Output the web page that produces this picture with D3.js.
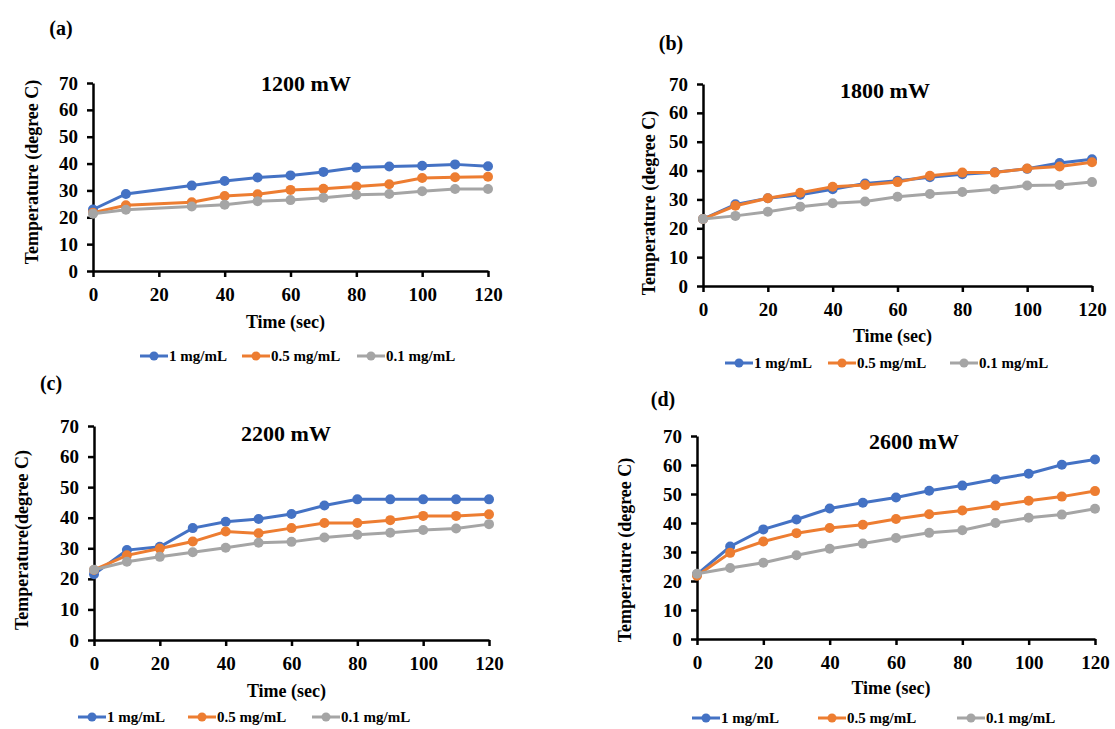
<!DOCTYPE html>
<html lang="en">

<head>
    <meta charset="UTF-8">
    <title>Temperature vs Time</title>
    <style>
        body {
            margin: 0;
            background: #fff;
        }

        svg text {
            font-family: "Liberation Serif", "Times New Roman", "DejaVu Serif", serif !important;
            font-weight: bold;
            fill: #000;
        }

        .axis path,
        .axis line {
            stroke: #000;
            stroke-width: 2.5px;
        }
    </style>
</head>

<body>
    <div id="chart"></div>

    <script src="https://d3js.org/d3.v7.min.js"></script>
    <script>
        // data
        const seriesNames = ["1 mg/mL", "0.5 mg/mL", "0.1 mg/mL"];
        const colors = ["#4472C4", "#ED7D31", "#A5A5A5"];

        const timeA = [0, 10, 30, 40, 50, 60, 70, 80, 90, 100, 110, 120];
        const timeFull = [0, 10, 20, 30, 40, 50, 60, 70, 80, 90, 100, 110, 120];
        const xTicks = [0, 20, 40, 60, 80, 100, 120];
        const yTicks = [0, 10, 20, 30, 40, 50, 60, 70];

        // (a) 1200 mW
        const a1 = [22.9, 28.7, 31.8, 33.5, 34.8, 35.6, 36.9, 38.5, 38.9, 39.2, 39.7, 39.0];
        const a05 = [21.7, 24.5, 25.6, 27.9, 28.6, 30.2, 30.6, 31.5, 32.3, 34.6, 34.9, 35.1];
        const a01 = [21.3, 22.8, 24.0, 24.7, 26.0, 26.4, 27.3, 28.4, 28.7, 29.7, 30.5, 30.5];
        // (b) 1800 mW
        const b1 = [23.2, 28.3, 30.4, 31.6, 33.5, 35.5, 36.5, 37.7, 38.7, 39.4, 40.6, 42.6, 43.9];
        const b05 = [23.2, 27.8, 30.4, 32.3, 34.4, 35.0, 36.0, 38.2, 39.3, 39.3, 40.7, 41.4, 42.9];
        const b01 = [23.2, 24.3, 25.7, 27.5, 28.7, 29.3, 30.9, 31.9, 32.6, 33.5, 34.8, 35.0, 36.0];
        // (c) 2200 mW
        const c1 = [21.5, 29.4, 30.5, 36.6, 38.7, 39.6, 41.2, 44.0, 46.0, 46.0, 46.0, 46.0, 46.0];
        const c05 = [22.9, 27.7, 29.9, 32.2, 35.5, 34.9, 36.6, 38.3, 38.3, 39.2, 40.6, 40.6, 41.1];
        const c01 = [23.0, 25.6, 27.2, 28.7, 30.2, 31.8, 32.1, 33.5, 34.4, 35.1, 36.0, 36.5, 37.9];
        // (d) 2600 mW
        const d1 = [22.3, 31.9, 37.8, 41.2, 45.0, 47.0, 48.8, 51.1, 52.9, 55.1, 57.0, 60.1, 61.9];
        const d05 = [21.8, 29.7, 33.6, 36.5, 38.3, 39.4, 41.4, 43.0, 44.3, 46.0, 47.7, 49.1, 51.0];
        const d01 = [22.5, 24.5, 26.3, 28.9, 31.1, 32.9, 34.8, 36.6, 37.5, 40.0, 41.8, 42.9, 44.9];

        const width = 1115;
        const height = 729;
        const font = '"Liberation Serif", "Times New Roman", serif';

        const svg = d3.select("#chart")
            .append("svg")
            .attr("width", width)
            .attr("height", height)
            .attr("font-family", font);

        // layout of each panel
        const panels = [
            {
                label: "(a)", labelX: 61, labelY: 35,
                title: "1200 mW", titleX: 306, titleY: 91,
                yTitle: "Temperature (degree C)", yTitleX: 38, yTitleY: 172,
                x0: 93, x1: 488, yTop: 83, yBot: 271,
                time: timeA, series: [a1, a05, a01],
                timeY: 328, legendY: 356, legendX: [140, 242, 357]
            },
            {
                label: "(b)", labelX: 671, labelY: 50,
                title: "1800 mW", titleX: 885, titleY: 98,
                yTitle: "Temperature (degree C)", yTitleX: 655, yTitleY: 203,
                x0: 703, x1: 1092, yTop: 84, yBot: 286,
                time: timeFull, series: [b1, b05, b01],
                timeY: 342, legendY: 363, legendX: [725, 828, 950]
            },
            {
                label: "(c)", labelX: 51, labelY: 390,
                title: "2200 mW", titleX: 286, titleY: 441,
                yTitle: "Temperature(degree C)", yTitleX: 28, yTitleY: 540,
                x0: 94, x1: 489, yTop: 426, yBot: 640,
                time: timeFull, series: [c1, c05, c01],
                timeY: 697, legendY: 717, legendX: [78, 188, 312]
            },
            {
                label: "(d)", labelX: 663, labelY: 406,
                title: "2600 mW", titleX: 914, titleY: 449,
                yTitle: "Temperature (degree C)", yTitleX: 631, yTitleY: 550,
                x0: 697, x1: 1095, yTop: 436, yBot: 639,
                time: timeFull, series: [d1, d05, d01],
                timeY: 694, legendY: 718, legendX: [692, 818, 957]
            }
        ];

        panels.forEach(p => {
            const x = d3.scaleLinear().domain([0, 120]).range([p.x0, p.x1]);
            const y = d3.scaleLinear().domain([0, 70]).range([p.yBot, p.yTop]);

            const g = svg.append("g");

            g.append("text")
                .attr("x", p.labelX)
                .attr("y", p.labelY)
                .attr("text-anchor", "middle")
                .style("font-size", "20px")
                .text(p.label);

            g.append("text")
                .attr("x", p.titleX)
                .attr("y", p.titleY)
                .attr("text-anchor", "middle")
                .style("font-size", "22px")
                .text(p.title);

            // axes
            g.append("g")
                .attr("class", "axis")
                .attr("transform", `translate(0,${p.yBot})`)
                .call(d3.axisBottom(x).tickValues(xTicks).tickSize(6).tickPadding(11).tickSizeOuter(0))
                .call(s => s.attr("font-family", font))
                .call(s => s.selectAll("text").style("font-size", "19px"));

            g.append("g")
                .attr("class", "axis")
                .attr("transform", `translate(${p.x0},0)`)
                .call(d3.axisLeft(y).tickValues(yTicks).tickSize(6).tickPadding(9).tickSizeOuter(0))
                .call(s => s.attr("font-family", font))
                .call(s => s.selectAll("text").style("font-size", "19px"));

            g.append("text")
                .attr("x", (p.x0 + p.x1) / 2 - 5)
                .attr("y", p.timeY)
                .attr("text-anchor", "middle")
                .style("font-size", "18px")
                .text("Time (sec)");

            g.append("text")
                .attr("transform", `translate(${p.yTitleX},${p.yTitleY}) rotate(-90)`)
                .attr("text-anchor", "middle")
                .style("font-size", "18px")
                .text(p.yTitle);

            // series
            const line = d3.line()
                .x((d, i) => x(p.time[i]))
                .y(d => y(d));

            p.series.forEach((vals, si) => {
                g.append("path")
                    .datum(vals)
                    .attr("fill", "none")
                    .attr("stroke", colors[si])
                    .attr("stroke-width", 3)
                    .attr("d", line);

                g.selectAll(null)
                    .data(vals)
                    .enter()
                    .append("circle")
                    .attr("cx", (d, i) => x(p.time[i]))
                    .attr("cy", d => y(d))
                    .attr("r", 5)
                    .attr("fill", colors[si]);
            });

            // legend
            seriesNames.forEach((name, si) => {
                const lx = p.legendX[si];
                g.append("line")
                    .attr("x1", lx)
                    .attr("x2", lx + 28)
                    .attr("y1", p.legendY)
                    .attr("y2", p.legendY)
                    .attr("stroke", colors[si])
                    .attr("stroke-width", 3);
                g.append("circle")
                    .attr("cx", lx + 14)
                    .attr("cy", p.legendY)
                    .attr("r", 4.5)
                    .attr("fill", colors[si]);
                g.append("text")
                    .attr("x", lx + 29)
                    .attr("y", p.legendY + 5)
                    .style("font-size", "15px")
                    .text(name);
            });
        });
    </script>

</body>

</html>
